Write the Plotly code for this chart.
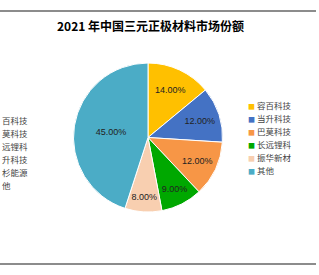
import plotly.graph_objects as go

companies = ["容百科技", "当升科技", "巴莫科技", "长远锂科", "振华新材", "其他"]
shares = [14, 12, 12, 9, 8, 45]
colors = ["#FFC000", "#4472C4", "#F79646", "#00A800", "#F8CFB0", "#4BACC6"]
side_labels = ["百科技", "莫科技", "远锂科", "升科技", "杉能源", "他"]
title_text = "2021 年中国三元正极材料市场份额"

W, H = 319, 275

fig = go.Figure(go.Pie(
    labels=companies,
    values=shares,
    sort=False,
    direction="clockwise",
    rotation=0,
    marker=dict(colors=colors, line=dict(color="#FFFFFF", width=1)),
    texttemplate="%{value:.2f}%",
    textposition="inside",
    insidetextorientation="horizontal",
    textfont=dict(family="Liberation Sans, Arial", size=9, color="#222222"),
    domain=dict(x=[73 / W, 223 / W], y=[(H - 212) / H, (H - 63) / H]),
    showlegend=False,
))

annotations = [dict(
    text="<b>" + title_text + "</b>", x=150 / W, y=1 - 25 / H, xref="paper", yref="paper",
    xanchor="center", yanchor="middle", showarrow=False,
    font=dict(family="Noto Sans CJK SC", size=12, color="#000000"),
)]
# clipped legend text fragments at the left edge
for i, t in enumerate(side_labels):
    annotations.append(dict(
        text=t, x=0, y=1 - (120 + 13 * i) / H, xref="paper", yref="paper",
        xanchor="left", yanchor="middle", showarrow=False,
        font=dict(family="Noto Sans CJK SC", size=8.5, color="#444444"),
    ))
# legend on the right, built from the same category/colour arrays
for i, (name, col) in enumerate(zip(companies, colors)):
    annotations.append(dict(
        text="<span style='color:%s;font-size:7px'>■</span> %s" % (col, name),
        x=246 / W, y=1 - (105 + 13 * i) / H, xref="paper", yref="paper",
        xanchor="left", yanchor="middle", showarrow=False,
        font=dict(family="Noto Sans CJK SC", size=8.5, color="#444444"),
    ))

fig.update_layout(
    width=W, height=H,
    margin=dict(l=0, r=0, t=0, b=0),
    paper_bgcolor="white", plot_bgcolor="white",
    annotations=annotations,
    shapes=[
        dict(type="line", xref="paper", yref="paper", x0=0, x1=316 / W,
             y0=1 - 11 / H, y1=1 - 11 / H, line=dict(color="#8C8C8C", width=2)),
        dict(type="line", xref="paper", yref="paper", x0=0, x1=316 / W,
             y0=1 - 264 / H, y1=1 - 264 / H, line=dict(color="#8C8C8C", width=2)),
    ],
)

fig.write_html("out.html")
